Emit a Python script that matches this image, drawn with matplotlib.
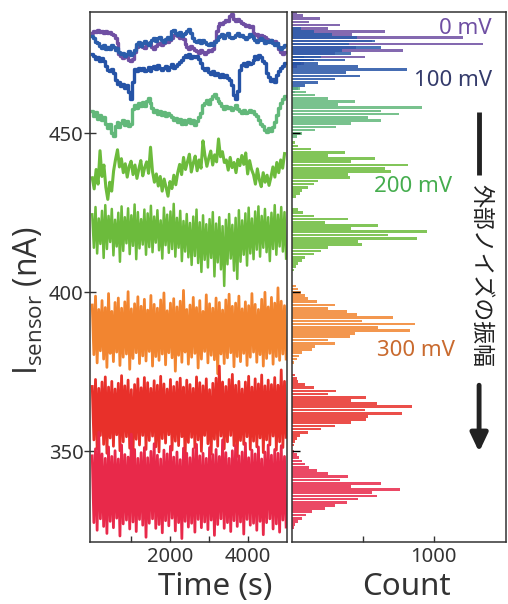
import numpy as np
import matplotlib
matplotlib.use('Agg')
import matplotlib.pyplot as plt

plt.rcParams['font.family'] = ['Noto Sans', 'DejaVu Sans']
plt.rcParams['mathtext.fontset'] = 'custom'
plt.rcParams['mathtext.rm'] = 'Open Sans'
plt.rcParams['mathtext.it'] = 'Open Sans'
plt.rcParams['mathtext.default'] = 'regular'

# ---- time traces (nA) ----
# smooth traces: one sample every 50 s
trace_purple = [
    481.5, 482.0, 481.7, 482.3, 481.8, 482.2, 481.6, 482.0, 481.4, 481.9,
    481.2, 480.8, 480.0, 478.5, 475.0, 474.2, 473.6, 474.4, 473.8, 473.0,
    472.6, 473.2, 475.5, 477.0, 477.5, 478.0, 477.2, 476.8, 477.6, 478.3,
    477.9, 477.0, 476.6, 477.4, 478.1, 478.5, 477.8, 478.4, 479.0, 478.6,
    479.3, 480.0, 480.8, 481.2, 480.5, 479.8, 480.4, 479.5, 478.0, 477.2,
    476.6, 477.4, 476.8, 476.2, 475.8, 475.3, 476.0, 475.5, 474.9, 475.6,
    476.2, 475.7, 476.5, 479.0, 482.0, 483.8, 484.6, 484.2, 485.0, 485.5,
    485.2, 486.8, 487.6, 486.0, 485.4, 485.8, 485.2, 484.8, 484.2, 483.6,
    484.0, 483.4, 483.8, 481.5, 480.8, 481.2, 480.4, 481.0, 480.6, 480.2,
    479.6, 479.0, 479.4, 478.6, 479.0, 478.2, 476.5, 475.6, 474.8, 475.4]
trace_blue1 = [
    480.5, 479.8, 478.8, 478.2, 477.5, 476.8, 477.6, 476.4, 477.2, 476.6,
    477.8, 477.0, 476.2, 476.8, 475.6, 474.8, 475.3, 474.4, 475.0, 475.8,
    474.6, 475.2, 476.0, 478.0, 478.8, 477.5, 478.4, 479.0, 478.2, 477.6,
    478.6, 479.4, 480.0, 479.0, 479.8, 480.4, 479.2, 478.6, 479.6, 480.2,
    479.5, 482.0, 482.6, 481.4, 481.0, 481.8, 480.6, 481.2, 481.6, 482.2,
    482.8, 481.6, 479.8, 479.0, 478.6, 479.4, 478.4, 479.2, 478.8, 478.0,
    477.6, 478.4, 477.8, 478.6, 479.4, 480.2, 480.6, 481.2, 480.0, 480.8,
    481.4, 480.4, 479.8, 480.2, 480.8, 481.4, 480.6, 481.0, 480.2, 479.6,
    480.4, 481.2, 480.6, 479.8, 479.2, 478.6, 479.4, 480.0, 479.2, 478.4,
    479.0, 478.6, 479.4, 478.2, 477.6, 478.4, 477.0, 476.4, 477.2, 477.8]
trace_blue2 = [
    475.0, 474.2, 473.4, 474.0, 472.8, 473.6, 472.6, 471.2, 470.0, 469.4,
    470.2, 469.0, 466.8, 465.6, 466.2, 464.8, 465.4, 464.2, 465.0, 463.0,
    460.8, 466.0, 470.2, 469.6, 470.6, 469.8, 470.4, 469.4, 470.0, 470.8,
    469.6, 470.4, 471.0, 470.2, 471.4, 470.6, 469.8, 470.6, 471.2, 470.0,
    470.8, 471.6, 470.4, 471.0, 471.8, 472.4, 473.0, 473.8, 474.6, 474.0,
    474.8, 473.6, 474.4, 473.8, 474.2, 473.2, 472.0, 470.6, 469.8, 470.4,
    469.2, 468.6, 469.4, 468.2, 469.0, 468.4, 467.8, 468.6, 467.6, 468.2,
    467.4, 466.8, 465.0, 462.0, 460.6, 463.4, 470.0, 471.4, 472.0, 471.2,
    472.4, 471.6, 472.2, 473.0, 474.2, 473.4, 474.6, 473.8, 472.8, 472.0,
    469.0, 467.6, 466.4, 467.0, 466.2, 468.2, 469.6, 470.4, 471.2, 472.0]
trace_lgreen = [
    457.0, 455.4, 456.8, 454.6, 455.8, 454.2, 455.0, 453.0, 451.6, 452.8,
    450.2, 449.0, 452.4, 453.6, 452.0, 453.2, 454.0, 452.6, 453.8, 452.2,
    453.0, 457.6, 458.8, 457.8, 459.4, 458.4, 459.8, 458.6, 460.2, 461.2,
    459.6, 457.8, 456.6, 457.4, 456.0, 457.0, 455.6, 456.8, 455.4, 456.4,
    455.8, 455.2, 454.0, 454.8, 453.4, 454.4, 453.0, 454.2, 452.8, 453.6,
    454.6, 453.2, 454.0, 452.6, 453.8, 455.0, 456.4, 458.8, 459.6, 460.4,
    459.2, 460.8, 461.6, 462.4, 461.0, 460.0, 459.4, 458.4, 457.6, 458.6,
    457.8, 458.2, 457.2, 458.0, 458.8, 457.6, 457.0, 456.4, 457.2, 456.2,
    456.8, 457.4, 456.6, 457.0, 456.0, 455.4, 454.0, 453.0, 452.2, 451.0,
    450.4, 451.6, 450.6, 452.0, 453.4, 455.6, 457.8, 459.4, 460.6, 461.8]
trace_green1 = [
    436.0, 432.5, 438.6, 434.0, 444.5, 436.4, 440.0, 433.0, 429.2, 434.6,
    431.8, 438.2, 441.8, 444.8, 439.4, 442.0, 437.6, 440.4, 436.2, 439.6,
    441.2, 437.0, 440.0, 435.8, 438.8, 441.4, 436.6, 439.2, 441.0, 437.4,
    445.6, 438.0, 434.6, 437.2, 433.4, 436.4, 431.8, 435.6, 433.0, 430.2,
    434.8, 432.6, 436.8, 433.8, 437.6, 440.2, 437.0, 442.4, 438.6, 441.0,
    443.4, 437.8, 440.6, 442.8, 438.2, 441.6, 439.0, 447.6, 443.0, 439.6,
    442.2, 444.4, 440.0, 443.2, 441.0, 448.2, 442.6, 444.2, 440.8, 441.6,
    438.4, 442.4, 439.2, 440.8, 437.6, 441.8, 439.8, 443.0, 440.2, 443.8,
    437.2, 441.4, 438.6, 437.0, 434.0, 438.8, 435.4, 433.2, 437.6, 434.6,
    436.8, 433.6, 436.2, 439.4, 436.2, 440.8, 437.6, 441.6, 439.0, 443.6]

# noisy traces: upper and lower excursions, alternating in time
green2_hi = [
    424.5, 426.8, 423.2, 425.6, 427.4, 424.0, 426.2, 422.8, 425.0, 427.0,
    423.6, 426.4, 424.2, 427.6, 425.2, 423.0, 426.0, 424.8, 427.2, 423.8,
    425.8, 422.6, 426.6, 424.4, 425.4, 427.8, 423.4, 425.6, 422.4, 424.6,
    421.8, 423.8, 426.0, 422.0, 424.2, 421.4, 423.0, 425.2, 421.6, 423.6,
    420.8, 422.8, 424.6, 421.2, 423.4, 425.8, 422.6, 424.8, 426.6, 423.2,
    425.4, 427.0, 424.0, 426.2, 423.6, 425.0, 427.4, 424.4, 426.8, 425.2]
green2_lo = [
    414.0, 412.2, 415.2, 410.8, 413.6, 415.8, 411.6, 414.4, 409.6, 413.0,
    415.4, 412.0, 414.6, 410.4, 413.8, 415.0, 411.8, 414.2, 412.6, 415.6,
    413.2, 410.6, 414.8, 412.4, 413.6, 411.2, 414.0, 409.8, 412.8, 411.0,
    408.6, 411.4, 409.2, 406.4, 410.2, 407.8, 410.8, 405.0, 409.4, 407.2,
    402.0, 408.8, 410.6, 406.8, 404.2, 409.6, 411.8, 408.4, 412.2, 410.4,
    413.4, 411.2, 414.0, 412.6, 409.8, 413.6, 411.8, 414.4, 412.8, 410.6]
orange_hi = [
    396.0, 398.8, 394.6, 397.4, 395.2, 399.6, 394.0, 396.8, 398.2, 395.0,
    397.0, 400.2, 394.8, 396.4, 398.6, 395.6, 397.8, 394.4, 399.0, 396.2,
    395.0, 397.6, 399.8, 394.2, 396.6, 398.0, 395.4, 397.2, 400.6, 394.6,
    396.0, 398.4, 395.2, 397.4, 394.0, 399.2, 396.4, 395.0, 398.2, 396.8,
    394.4, 397.6, 399.4, 395.6, 396.6, 398.8, 394.8, 397.0, 395.8, 399.6,
    396.2, 394.6, 397.8, 400.0, 395.4, 398.4, 396.6, 401.4, 397.2, 395.8]
orange_lo = [
    380.4, 377.8, 381.6, 379.0, 376.4, 380.8, 378.2, 381.2, 377.0, 379.6,
    380.6, 375.8, 379.2, 381.0, 377.6, 380.0, 378.4, 381.4, 376.8, 379.8,
    378.6, 380.6, 377.2, 381.0, 379.4, 375.2, 380.2, 378.0, 381.2, 377.4,
    379.6, 380.8, 376.2, 379.0, 381.4, 377.8, 380.2, 378.8, 374.4, 380.6,
    377.6, 379.4, 381.0, 376.6, 379.8, 378.2, 380.8, 377.0, 379.6, 381.2,
    378.0, 380.4, 376.8, 379.2, 380.8, 377.4, 379.8, 378.6, 380.6, 379.0]
red_hi = [
    370.4, 372.6, 369.8, 371.8, 373.4, 370.2, 372.0, 369.6, 371.4, 373.8,
    370.6, 372.4, 369.4, 371.0, 372.8, 370.0, 373.2, 371.6, 369.8, 372.2,
    370.8, 373.6, 371.2, 369.6, 372.6, 370.4, 371.8, 373.0, 370.2, 372.4,
    371.0, 369.8, 373.4, 371.6, 370.6, 372.8, 369.4, 371.4, 373.0, 376.8,
    371.8, 370.4, 372.6, 374.2, 370.8, 372.0, 369.6, 371.8, 373.6, 370.2,
    372.8, 371.2, 374.0, 370.6, 372.4, 371.0, 373.2, 370.8, 375.6, 372.0]
red_lo = [
    353.6, 350.8, 355.0, 352.2, 349.4, 354.2, 351.6, 355.2, 350.2, 353.0,
    354.6, 351.0, 348.8, 353.8, 352.0, 355.0, 350.6, 353.4, 354.8, 351.4,
    349.8, 354.0, 352.6, 355.2, 350.4, 353.2, 351.8, 354.6, 347.6, 352.8,
    354.4, 351.2, 353.6, 350.0, 355.0, 352.4, 349.2, 353.8, 351.6, 354.8,
    350.8, 353.0, 355.0, 351.8, 348.4, 353.4, 352.2, 354.6, 350.6, 353.2,
    351.4, 354.2, 349.6, 353.6, 352.0, 354.8, 350.4, 353.0, 351.2, 354.4]
pink_hi = [
    348.6, 350.8, 356.0, 349.2, 347.8, 351.4, 348.4, 350.2, 347.6, 352.0,
    349.0, 348.2, 355.4, 350.6, 347.8, 349.6, 351.2, 348.0, 350.0, 352.4,
    348.8, 347.6, 350.4, 349.2, 351.6, 348.2, 349.8, 347.4, 351.0, 349.4,
    348.0, 350.8, 352.2, 348.6, 349.4, 347.8, 351.2, 349.0, 350.6, 348.4,
    353.6, 349.6, 347.8, 350.2, 351.8, 348.6, 349.8, 352.6, 348.0, 350.4,
    349.2, 351.4, 347.6, 349.8, 352.0, 348.8, 350.6, 349.4, 351.8, 348.4]
pink_lo = [
    327.6, 325.2, 328.8, 326.4, 324.2, 328.0, 326.0, 329.0, 323.4, 327.2,
    328.4, 325.6, 327.8, 324.8, 328.6, 326.8, 323.0, 327.4, 328.8, 325.8,
    327.0, 324.4, 328.2, 326.6, 329.0, 325.0, 327.6, 322.6, 328.0, 326.2,
    327.4, 324.6, 328.6, 326.0, 327.8, 325.4, 328.4, 323.6, 327.0, 328.8,
    325.8, 327.6, 324.8, 328.2, 326.4, 327.8, 324.0, 328.6, 326.8, 327.4,
    325.2, 328.0, 323.8, 327.6, 328.8, 325.6, 327.2, 324.6, 328.4, 326.2]

# ---- histograms: counts per 1 nA bin, from the top bin downwards ----
hist_purple_top, hist_purple = 488, [30, 76, 194, 120, 335, 250, 654, 420, 1208, 560,
                                     1347, 450, 784, 300, 513, 150, 80, 30]
hist_blue1_top, hist_blue1 = 483, [60, 150, 280, 454, 583, 400, 630, 350, 418, 200, 150, 60]
hist_blue2_top, hist_blue2 = 474, [80, 371, 180, 465, 807, 380, 477, 300, 183, 88, 40, 20]
hist_lgreen_top, hist_lgreen = 464, [53, 100, 159, 254, 442, 324, 913, 630, 755, 536,
                                     630, 418, 312, 159, 65, 30]
hist_green1_top, hist_green1 = 447, [20, 41, 130, 371, 253, 583, 418, 819, 654, 700,
                                     395, 407, 183, 150, 112, 70, 53, 25]
hist_green2_top, hist_green2 = 426, [40, 77, 150, 395, 230, 607, 418, 949, 678, 878,
                                     466, 489, 253, 206, 150, 88, 65, 40, 25, 15]
hist_orange_top, hist_orange = 402, [25, 40, 60, 90, 110, 171, 300, 250, 383, 454,
                                     713, 489, 866, 607, 831, 442, 407, 253, 300, 160,
                                     136, 65, 45, 30, 15]
hist_red_top, hist_red = 374, [20, 30, 41, 88, 150, 312, 253, 524, 418, 600,
                               843, 513, 772, 536, 524, 418, 300, 200, 112, 53, 30, 18, 10]
hist_pink_top, hist_pink = 350, [15, 30, 50, 70, 88, 120, 171, 250, 395, 336,
                                 630, 418, 760, 560, 595, 466, 383, 300, 230, 136,
                                 100, 65, 40, 18, 10]

voltage_labels = ['0 mV', '100 mV', '200 mV', '300 mV']

c_purple = '#6f4fa3'
c_blue1 = '#2b5dab'
c_blue2 = '#2553a6'
c_lgreen = '#62b87a'
c_green = '#6cbb3c'
c_orange = '#f28530'
c_red = '#e8302a'
c_pink = '#e8294a'
ink = '#333333'

fig = plt.figure(figsize=(5.08, 6.04), dpi=100)
ax1 = fig.add_axes([0.177, 0.1026, 0.387, 0.877])
ax2 = fig.add_axes([0.5754, 0.1026, 0.4207, 0.877], sharey=ax1)

# left: time traces
smooth = [(trace_purple, c_purple), (trace_blue1, c_blue1), (trace_blue2, c_blue2),
          (trace_lgreen, c_lgreen)]
for vals, col in smooth:
    t = np.arange(len(vals)) * 50.0
    ax1.plot(t, vals, color=col, lw=2.4, drawstyle='steps-mid')
t = np.arange(len(trace_green1)) * 50.0
ax1.plot(t, trace_green1, color=c_green, lw=2.2)

noisy = [(green2_hi, green2_lo, c_green, 1.8), (orange_hi, orange_lo, c_orange, 2.0),
         (red_hi, red_lo, c_red, 2.0), (pink_hi, pink_lo, c_pink, 2.0)]
for hi, lo, col, lw in noisy:
    vals = np.column_stack([hi, lo]).ravel()
    t = np.linspace(0, 4990, len(vals))
    ax1.plot(t, vals, color=col, lw=lw)

ax1.set_xlim(-60, 5000)
ax1.set_ylim(321.5, 488)
ax1.set_xticks([1000, 2000, 3000, 4000])
ax1.set_xticklabels(['', '2000', '', '4000'])
ax1.set_yticks([350, 400, 450])
ax1.tick_params(axis='x', direction='in', length=4.5, width=1, pad=3.5,
                labelsize=14.5, colors=ink)
ax1.tick_params(axis='y', direction='inout', length=9, width=1, pad=0,
                labelsize=14.5, colors=ink)

# right: histograms
hists = [(hist_purple_top, hist_purple, c_purple), (hist_blue1_top, hist_blue1, c_blue1),
         (hist_blue2_top, hist_blue2, c_blue2), (hist_lgreen_top, hist_lgreen, c_lgreen),
         (hist_green1_top, hist_green1, c_green), (hist_green2_top, hist_green2, c_green),
         (hist_orange_top, hist_orange, c_orange), (hist_red_top, hist_red, c_red),
         (hist_pink_top, hist_pink, c_pink)]
for top, counts, col in hists:
    levels = top - np.arange(len(counts))
    ax2.barh(levels, counts, height=0.85, color=col, linewidth=0, alpha=0.85)

ax2.set_xlim(0, 1510)
ax2.set_xticks([500, 1000])
ax2.set_xticklabels(['', '1000'])
ax2.tick_params(axis='x', direction='in', length=4.5, width=1, pad=3.5,
                labelsize=14.5, colors=ink)
ax2.tick_params(axis='y', direction='in', length=6, width=1, labelleft=False)

for ax in (ax1, ax2):
    for s in ax.spines.values():
        s.set_linewidth(1.1)
        s.set_color(ink)

# voltage labels
ax2.text(0.934, 0.960, voltage_labels[0], transform=ax2.transAxes, ha='right',
         va='baseline', fontsize=16, color='#6f4fa3')
ax2.text(0.934, 0.860, voltage_labels[1], transform=ax2.transAxes, ha='right',
         va='baseline', fontsize=16, color='#343b6b')
ax2.text(0.746, 0.660, voltage_labels[2], transform=ax2.transAxes, ha='right',
         va='baseline', fontsize=16, color='#45ad4e')
ax2.text(0.761, 0.351, voltage_labels[3], transform=ax2.transAxes, ha='right',
         va='baseline', fontsize=16, color='#c96a2e')

# external noise amplitude arrow
ax2.plot([0.874, 0.874], [0.692, 0.811], transform=ax2.transAxes, lw=3.5,
         color='#222222', solid_capstyle='butt')
ax2.annotate('', xy=(0.874, 0.170), xytext=(0.874, 0.296), xycoords='axes fraction',
             arrowprops=dict(arrowstyle='-|>,head_length=0.55,head_width=0.26',
                             mutation_scale=20, lw=3.5, color='#222222',
                             shrinkA=0, shrinkB=0))
ax2.text(0.883, 0.504, '外部ノイズの振幅', transform=ax2.transAxes, rotation=-90,
         ha='center', va='center', fontsize=16.5, color='#222222',
         family=['Noto Sans CJK JP', 'DejaVu Sans'])

# axis labels
fig.text(215 / 508, 0.015, 'Time (s)', ha='center', va='baseline', fontsize=22.5, color=ink)
fig.text(406 / 508, 0.015, 'Count', ha='center', va='baseline', fontsize=22.5, color=ink)
fig.text(29 / 508, 0.502, r'I$_{sensor}$ (nA)', rotation=90, ha='center',
         va='center', fontsize=23, color=ink, family='Open Sans')

fig.savefig('out.png', dpi=100)
